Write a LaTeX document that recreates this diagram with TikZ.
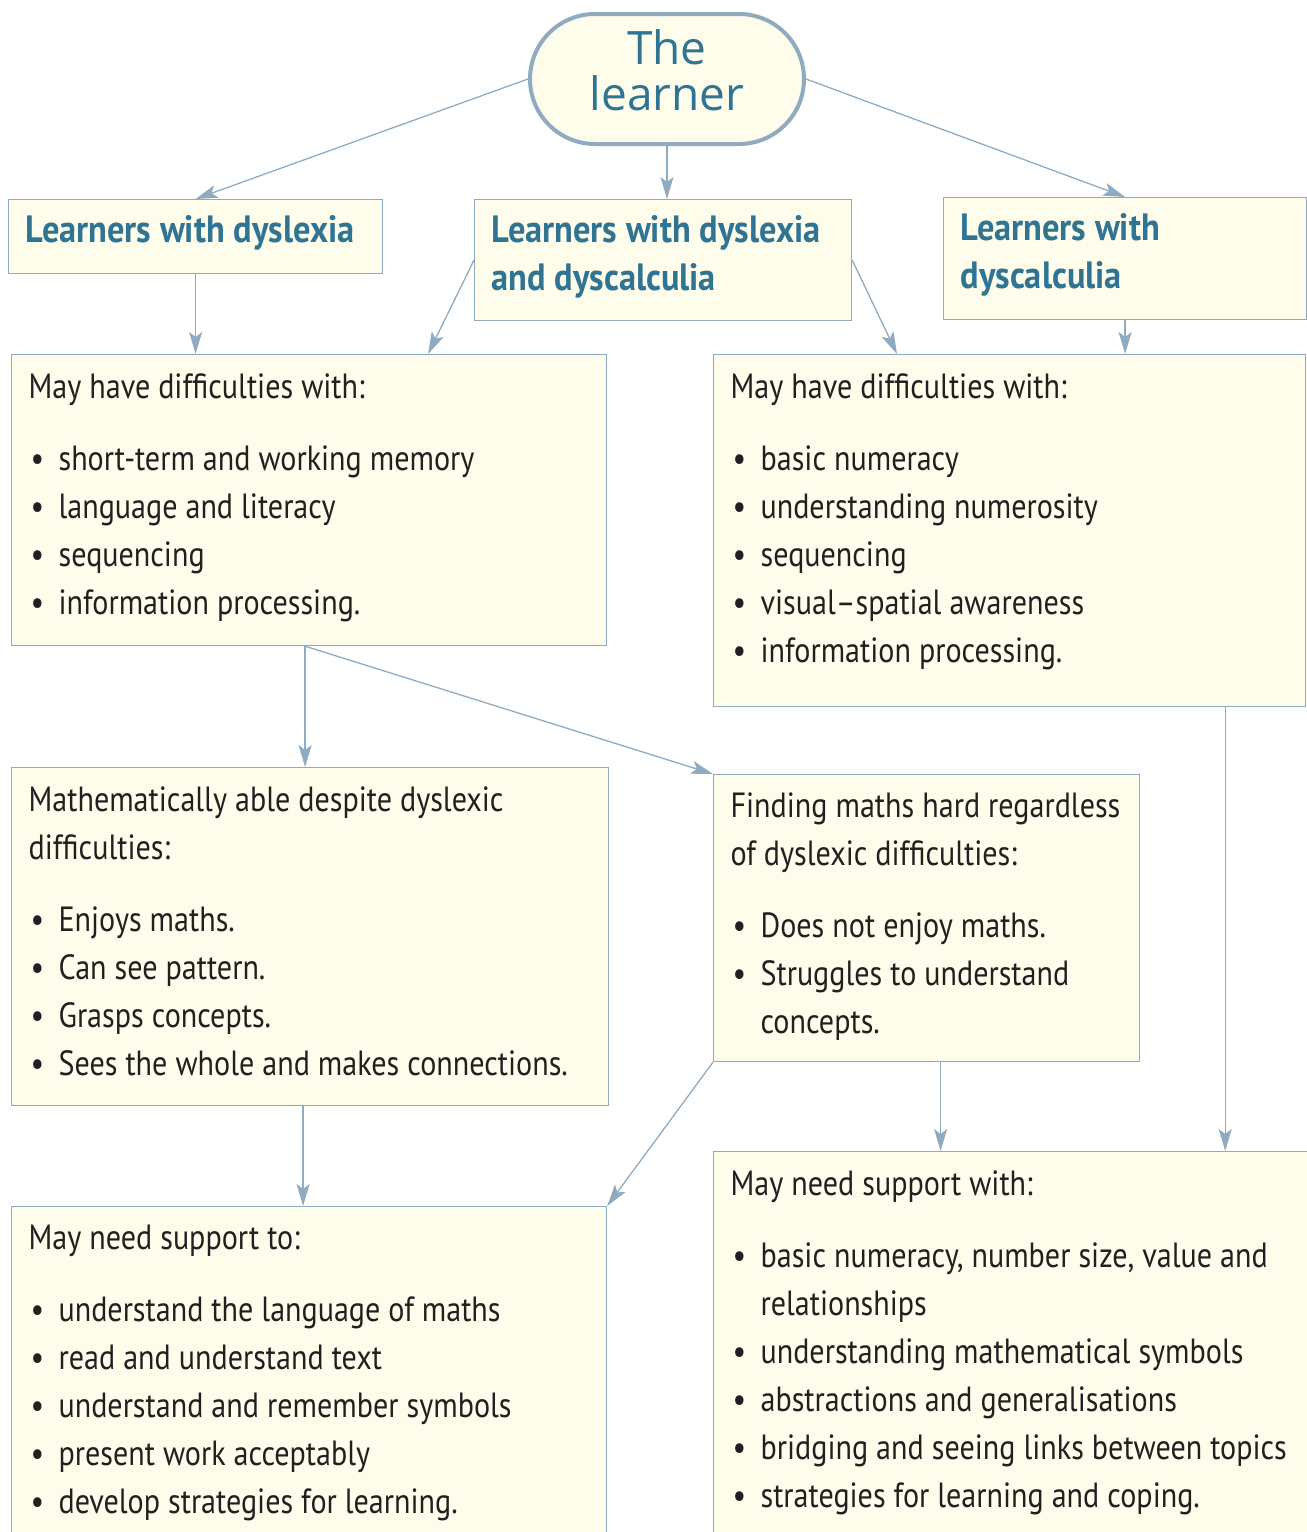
\documentclass[tikz,border=0pt]{standalone}
\usepackage{fontspec}
\setmainfont{PT Sans}[FakeStretch=0.86]
\newfontfamily\titlefont{PT Sans}[FakeStretch=0.905]
\newfontfamily\headfont{Open Sans}
\usetikzlibrary{arrows.meta, positioning}
\definecolor{cream}{HTML}{FEFCEA}
\definecolor{edgeblue}{HTML}{8FABC1}
\definecolor{titleblue}{HTML}{2F7492}
\definecolor{ink}{HTML}{231F20}

% box body: width, height, first baseline, text
\newcommand{\panel}[4]{\parbox[t][#2][t]{#1}{\leftskip=8.5pt\rightskip=0pt plus 1fil
  \fontsize{17.5}{24}\selectfont\color{ink}\rule{0pt}{#3}#4\par}}
\newcommand{\headpanel}[3]{\parbox[t][#2][t]{#1}{\leftskip=8.5pt\rightskip=0pt plus 1fil
  \titlefont\fontsize{19}{24}\selectfont\bfseries\color{titleblue}\rule{0pt}{21.5pt}#3\par}}
\newcommand{\bul}[1]{\par\hangindent=15pt\hangafter=1\noindent
  \makebox[15pt][l]{\hspace{1pt}\textbullet}#1\par}
\newcommand{\gap}{\par\vspace{12pt}}

\begin{document}
\begin{tikzpicture}[x=0.5pt, y=-0.5pt,
  >={Stealth[length=11pt, width=6.5pt, inset=2.5pt]},
  box/.style={draw=edgeblue, fill=cream, line width=0.6pt, inner sep=0pt, anchor=north west},
  link/.style={draw=edgeblue, line width=0.65pt}]
\useasboundingbox (0,0) rectangle (1307,1532);
\clip (0,0) rectangle (1307,1532);

\node[draw=edgeblue, fill=cream, line width=2pt, rounded corners=32.5pt, inner sep=0pt,
  anchor=north west] at (528,12) (learner)
  {\parbox[t][65pt][t]{137pt}{\centering\headfont\fontsize{23}{23}\selectfont
   \color{titleblue}\rule{0pt}{25pt}The\\learner\par}};

\node[box] at (8,199) (dys) {\headpanel{187pt}{37pt}{Learners with dyslexia}};
\node[box] at (474,199) (both) {\headpanel{188.5pt}{60.5pt}{Learners with dyslexia\\and dyscalculia}};
\node[box] at (943,197) (dysc) {\headpanel{181.5pt}{61pt}{Learners with\\dyscalculia}};

\node[box] at (11,354) (difA) {\panel{297.5pt}{145.5pt}{22pt}{May have difficulties with:\gap
  \bul{short-term and working memory}
  \bul{language and literacy}
  \bul{sequencing}
  \bul{information processing.}}};
\node[box] at (713,354) (difB) {\panel{296pt}{176pt}{22pt}{May have difficulties with:\gap
  \bul{basic numeracy}
  \bul{understanding numerosity}
  \bul{sequencing}
  \bul{visual--spatial awareness}
  \bul{information processing.}}};

\node[box] at (11,767) (able) {\panel{298.5pt}{169pt}{22pt}{Mathematically able despite dyslexic\\difficulties:\gap
  \bul{Enjoys maths.}
  \bul{Can see pattern.}
  \bul{Grasps concepts.}
  \bul{Sees the whole and makes connections.}}};
\node[box] at (713,774) (hard) {\panel{213pt}{143.5pt}{21.5pt}{Finding maths hard regardless\\of dyslexic difficulties:\gap
  \bul{Does not enjoy maths.}
  \bul{Struggles to understand\\concepts.}}};

\node[box] at (11,1206) (suppA) {\panel{297.5pt}{175pt}{21.5pt}{May need support to:\gap
  \bul{understand the language of maths}
  \bul{read and understand text}
  \bul{understand and remember symbols}
  \bul{present work acceptably}
  \bul{develop strategies for learning.}}};
\node[box] at (713,1151) (suppB) {\panel{297pt}{200pt}{22pt}{May need support with:\gap
  \bul{basic numeracy, number size, value and\\relationships}
  \bul{understanding mathematical symbols}
  \bul{abstractions and generalisations}
  \bul{bridging and seeing links between topics}
  \bul{strategies for learning and coping.}}};

% connectors
\draw[link, ->] (learner.west) -- (dys.north);
\draw[link, ->] (learner.south) -- (learner.south |- both.north);
\draw[link, ->] (learner.east) -- (dysc.north);
\draw[link, ->] (dys.south) -- (dys.south |- difA.north);
\draw[link, ->] (both.west) -- ([xshift=208.5pt]difA.north west);
\draw[link, ->] (both.east) -- ([xshift=92pt]difB.north west);
\draw[link, ->] (dysc.south) -- (dysc.south |- difB.north);
\draw[link, ->] ([xshift=-2pt]difA.south) -- ([xshift=-2pt]difA.south |- able.north);
\draw[link, ->] ([xshift=-2pt]difA.south) -- (hard.north west);
\draw[link, ->] ([xshift=-40.5pt]difB.south east) -- ([xshift=-40.5pt]difB.south east |- suppB.north);
\draw[link, ->] ([xshift=-3.5pt]able.south) -- ([xshift=-3.5pt]able.south |- suppA.north);
\draw[link, ->] (hard.south west) -- (suppA.north east);
\draw[link, ->] ([xshift=7pt]hard.south) -- ([xshift=7pt]hard.south |- suppB.north);
\end{tikzpicture}
\end{document}
